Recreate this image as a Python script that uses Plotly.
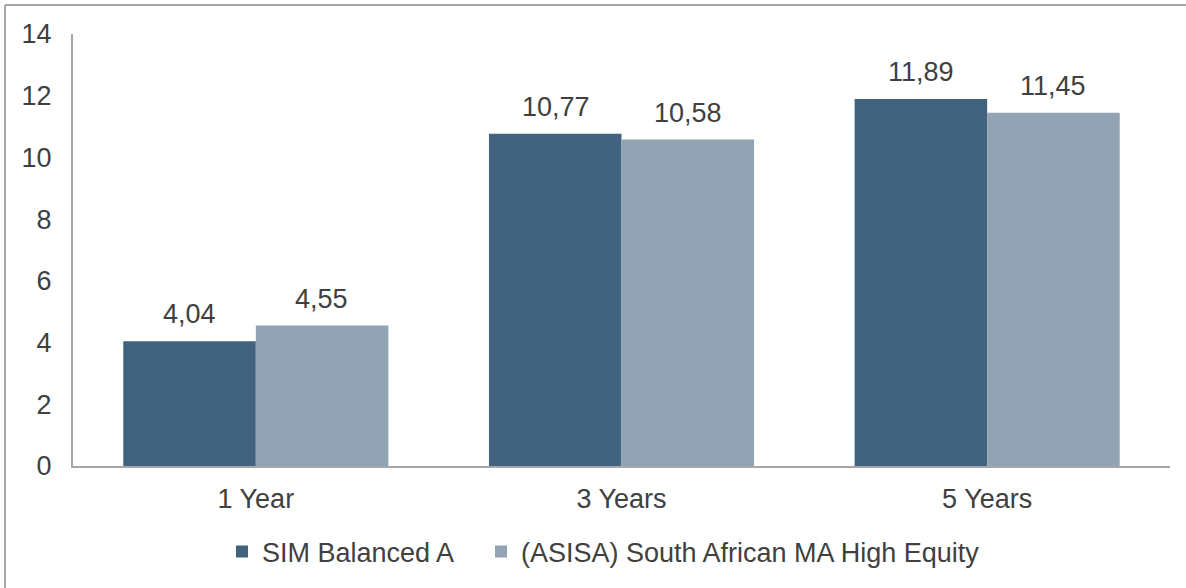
import plotly.graph_objects as go

categories = ["1 Year", "3 Years", "5 Years"]
sim_balanced = [4.04, 10.77, 11.89]
asisa_high_equity = [4.55, 10.58, 11.45]
series_names = ["SIM Balanced A", "(ASISA) South African MA High Equity"]
y_ticks = [0, 2, 4, 6, 8, 10, 12, 14]

W, H = 1186, 588
ML, MR, MT, MB = 73, 16, 34, 122
PW, PH = W - ML - MR, H - MT - MB

def px_x(p):
    return (p - ML) / PW

def px_y(p):
    return (H - MB - p) / PH

dark = "#42637F"
light = "#92A3B3"
txt = "#404040"
axis_col = "#A6A6A6"
FONT = "Liberation Sans, Arial, sans-serif"
FS = 27

fig = go.Figure()
fig.add_trace(go.Bar(x=categories, y=sim_balanced, name=series_names[0],
                     marker=dict(color=dark, line=dict(width=0)), legend="legend"))
fig.add_trace(go.Bar(x=categories, y=asisa_high_equity, name=series_names[1],
                     marker=dict(color=light, line=dict(width=0)), legend="legend2"))

annotations = []
for vals, shift in ((sim_balanced, -66), (asisa_high_equity, 66)):
    for c, v in zip(categories, vals):
        annotations.append(dict(
            x=c, y=v, xref="x", yref="y", text=f"{v:.2f}".replace(".", ","),
            showarrow=False, xshift=shift, yshift=10, yanchor="bottom",
            font=dict(size=FS, color=txt, family=FONT)))

shapes = [
    dict(type="line", xref="paper", yref="paper", x0=px_x(5), x1=px_x(W + 2),
         y0=px_y(5), y1=px_y(5), line=dict(color=axis_col, width=2)),
    dict(type="line", xref="paper", yref="paper", x0=px_x(5), x1=px_x(5),
         y0=px_y(5), y1=px_y(H + 2), line=dict(color=axis_col, width=2)),
]

legend_common = dict(orientation="h", xanchor="left", y=px_y(552), yanchor="middle",
                     font=dict(size=FS, color=txt, family=FONT), itemwidth=30,
                     bgcolor="rgba(0,0,0,0)")

fig.update_layout(
    width=W, height=H,
    margin=dict(l=ML, r=MR, t=MT, b=MB, autoexpand=False),
    paper_bgcolor="white", plot_bgcolor="white",
    font=dict(family=FONT, size=FS, color=txt),
    barmode="group", bargap=0.275, bargroupgap=0,
    showlegend=True,
    legend=dict(x=px_x(222), **legend_common),
    legend2=dict(x=px_x(481), **legend_common),
    xaxis=dict(showline=True, linecolor=axis_col, linewidth=2, showgrid=False,
               ticks="", tickfont=dict(size=FS, color=txt), ticklabelstandoff=8,
               zeroline=False),
    yaxis=dict(range=[0, 14], tickvals=y_ticks, showline=True, linecolor=axis_col,
               linewidth=2, showgrid=False, zeroline=False, ticks="",
               tickfont=dict(size=FS, color=txt), ticklabelstandoff=14),
    annotations=annotations,
    shapes=shapes,
)

fig.write_html("out.html")
